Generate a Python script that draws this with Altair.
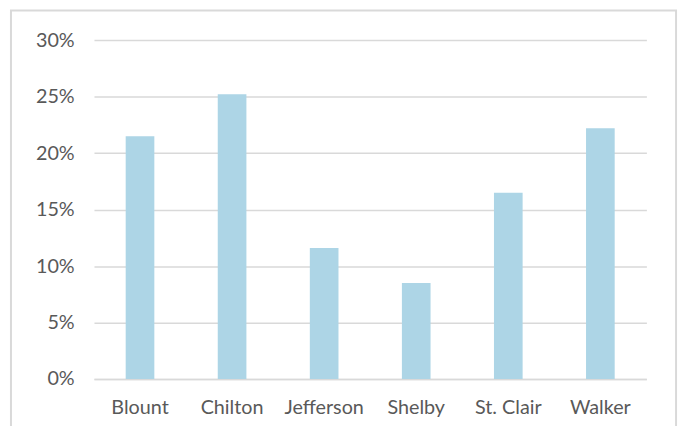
import altair as alt
import pandas as pd

counties = ["Blount", "Chilton", "Jefferson", "Shelby", "St. Clair", "Walker"]
values = [0.215, 0.252, 0.116, 0.085, 0.165, 0.222]

df = pd.DataFrame({"county": counties, "value": values})

W, H = 559, 343
FONT = "Lato"

bars = alt.Chart(df).mark_bar(size=29, color="#ADD5E6").encode(
    x=alt.X("county:N", sort=counties, title=None,
            scale=alt.Scale(paddingInner=0, paddingOuter=0),
            axis=alt.Axis(labelAngle=0, labelFontSize=20, labelColor="#595959",
                          labelFont=FONT, labelPadding=19, ticks=False,
                          domainColor="#D9D9D9", domainWidth=1.5, grid=False)),
    y=alt.Y("value:Q", title=None,
            scale=alt.Scale(domain=[0, 0.30], nice=False),
            axis=alt.Axis(format=".0%", values=[0, 0.05, 0.10, 0.15, 0.20, 0.25, 0.30],
                          labelFontSize=20, labelColor="#595959", labelFont=FONT,
                          labelPadding=20, ticks=False, domain=False,
                          gridColor="#D9D9D9", gridWidth=1.5)),
)

frame = alt.Chart(pd.DataFrame({"a": [0]})).mark_rect(
    fill=None, stroke="#D9D9D9", strokeWidth=2
).encode(
    x=alt.value(-84), x2=alt.value(W + 30),
    y=alt.value(-30), y2=alt.value(H + 80),
)

chart = alt.layer(bars, frame).properties(
    width=W, height=H,
    autosize=alt.AutoSizeParams(type="none"),
    padding={"left": 87, "top": 30, "right": 34, "bottom": 45},
).configure_view(stroke=None)

chart.save("out.html", embed_options={"renderer": "svg", "actions": False})
